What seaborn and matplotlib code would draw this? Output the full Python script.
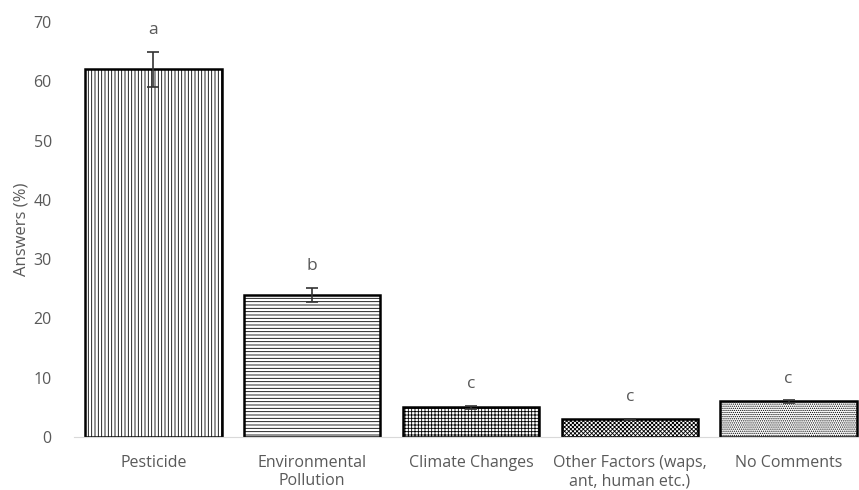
import numpy as np
import matplotlib
matplotlib.use("Agg")
import matplotlib.pyplot as plt
import pandas as pd
import seaborn as sns

categories = ["Pesticide", "Environmental\nPollution", "Climate Changes",
              "Other Factors (waps,\nant, human etc.)", "No Comments"]
answers = [62.0, 24.0, 5.0, 3.0, 6.0]
errors = [3.0, 1.2, 0.3, 0.1, 0.2]
letters = ["a", "b", "c", "c", "c"]
hatches = ["|||||", "-----", "+++++", "xxxxxxxx", "........"]

sns.set_style("white")
plt.rcParams["font.family"] = ["Open Sans", "DejaVu Sans"]
plt.rcParams["hatch.linewidth"] = 0.6

df = pd.DataFrame({"factor": categories, "answers": answers})

fig = plt.figure(figsize=(8.59, 4.90), dpi=100)
ax = fig.add_axes([74 / 859, 53 / 490, 794 / 859, 415 / 490])

sns.barplot(data=df, x="factor", y="answers", color="white", edgecolor="black",
            linewidth=1.8, width=0.86, errorbar=None, ax=ax)
for patch, h in zip(ax.patches, hatches):
    patch.set_hatch(h)
    patch.set_facecolor("white")

xs = np.arange(len(categories))
ax.errorbar(xs, answers, yerr=errors, fmt="none", ecolor="#333333",
            elinewidth=1.2, capsize=4, capthick=1.2)
for x, y, e, lab in zip(xs, answers, errors, letters):
    ax.text(x, y + e + 2.3, lab, ha="center", va="bottom", fontsize=12.5,
            color="#595959")

ax.set_xlim(-0.5, 4.5)
ax.set_ylim(0, 70)
ax.set_yticks(range(0, 71, 10))
ax.set_xlabel("")
ax.set_ylabel("Answers (%)", fontsize=12, color="#595959")
ax.tick_params(axis="both", length=0, labelsize=11.5, labelcolor="#595959")
ax.tick_params(axis="y", pad=16)
ax.tick_params(axis="x", pad=13)
for s in ["top", "right", "left"]:
    ax.spines[s].set_visible(False)
ax.spines["bottom"].set_color("#d9d9d9")
ax.yaxis.set_label_coords(-0.056, 0.5)

fig.savefig("out.png", dpi=100)
